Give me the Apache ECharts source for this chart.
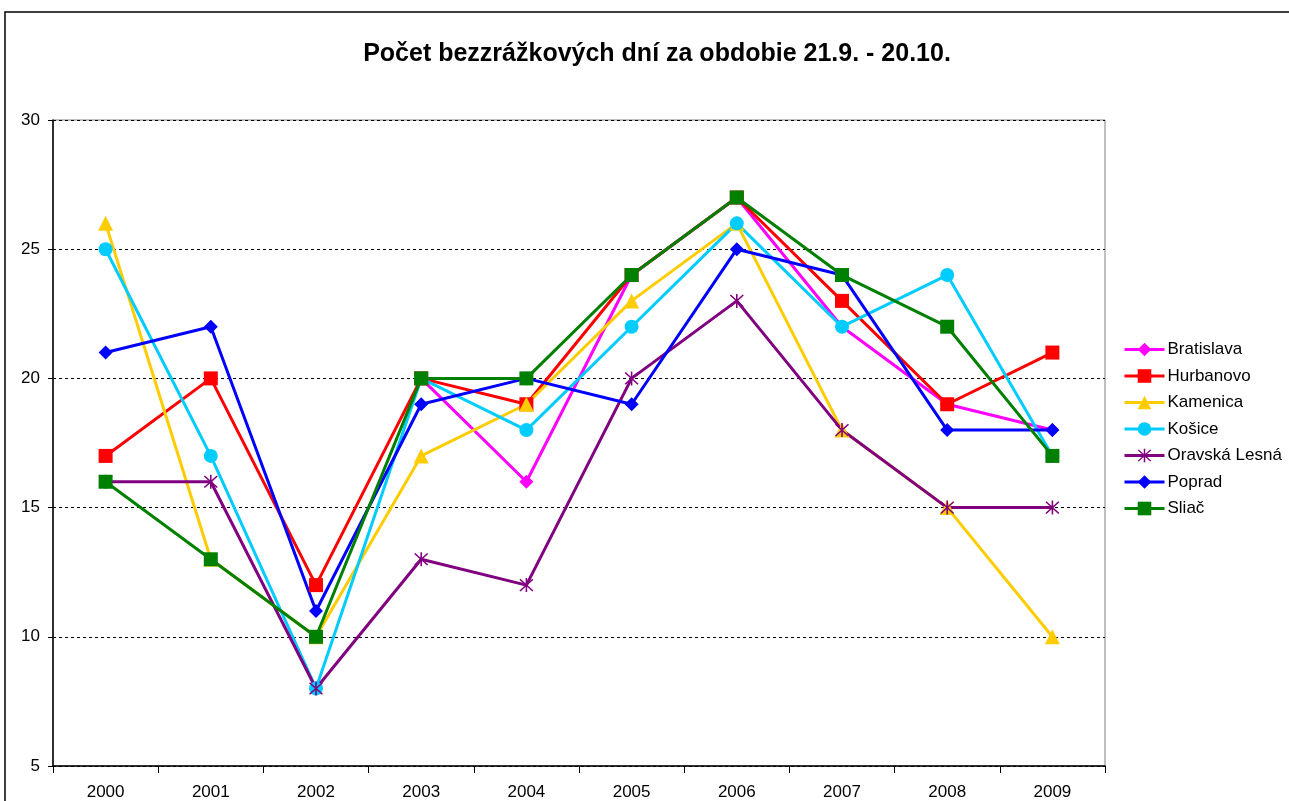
<!DOCTYPE html>
<html>
<head>
<meta charset="utf-8">
<script src="https://cdn.jsdelivr.net/npm/echarts@6/dist/echarts.min.js"></script>
<style>
    html, body { margin: 0; padding: 0; background: #fff; }
    #chart { width: 1289px; height: 801px; }
</style>
</head>
<body>
<div id="chart"></div>
<script>
    var years = ['2000', '2001', '2002', '2003', '2004', '2005', '2006', '2007', '2008', '2009'];

    var bratislava = [null, null, null, 20, 16, 24, 27, 22, 19, 18];
    var hurbanovo  = [17, 20, 12, 20, 19, 24, 27, 23, 19, 21];
    var kamenica   = [26, 13, 10, 17, 19, 23, 26, 18, 15, 10];
    var kosice     = [25, 17, 8, 20, 18, 22, 26, 22, 24, 17];
    var oravska    = [16, 16, 8, 13, 12, 20, 23, 18, 15, 15];
    var poprad     = [21, 22, 11, 19, 20, 19, 25, 24, 18, 18];
    var sliac      = [16, 13, 10, 20, 20, 24, 27, 24, 22, 17];

    var yTicks = [5, 10, 15, 20, 25, 30];

    var star = 'path://M9 0h2v20h-2z M1 2.4L2.4 1L19 17.6L17.6 19z M17.6 1L19 2.4L2.4 19L1 17.6z';

    function line(name, data, color, symbol, size) {
        return {
            name: name,
            type: 'line',
            data: data,
            symbol: symbol,
            symbolSize: size,
            showAllSymbol: true,
            connectNulls: false,
            lineStyle: { color: color, width: 3 },
            itemStyle: { color: color },
            emphasis: { disabled: true }
        };
    }

    var option = {
        animation: false,
        backgroundColor: '#fff',
        title: {
            text: 'Počet bezzrážkových dní za obdobie 21.9. - 20.10.',
            left: 652,
            textAlign: 'center',
            top: 37,
            textStyle: { fontFamily: 'Liberation Sans', fontSize: 25, fontWeight: 'bold', color: '#000' }
        },
        graphic: [{
            type: 'rect',
            shape: { x: 5, y: 12, width: 1320, height: 820 },
            style: { fill: 'none', stroke: '#000', lineWidth: 1.5 },
            silent: true
        }],
        legend: {
            orient: 'vertical',
            left: 1118,
            top: 336,
            itemWidth: 40,
            itemHeight: 17,
            itemGap: 9.5,
            lineStyle: { width: 3 },
            textStyle: { fontFamily: 'Liberation Sans', fontSize: 17, lineHeight: 17, color: '#000', padding: [0, 0, 0, -2] },
            data: ['Bratislava', 'Hurbanovo', 'Kamenica', 'Košice', 'Oravská Lesná', 'Poprad', 'Sliač']
        },
        grid: {
            left: 53, top: 120, width: 1052, height: 647,
            show: true, borderColor: '#808080', borderWidth: 1
        },
        xAxis: {
            type: 'category',
            data: years,
            boundaryGap: true,
            axisLine: { lineStyle: { color: '#000', width: 1.5 } },
            axisTick: { show: true, length: 7, alignWithLabel: false, lineStyle: { color: '#000' } },
            axisLabel: { fontFamily: 'Liberation Sans', fontSize: 17, color: '#000', margin: 18 },
            splitLine: { show: false }
        },
        yAxis: {
            type: 'value',
            min: yTicks[0],
            max: yTicks[yTicks.length - 1],
            interval: 5,
            axisLine: { show: true, lineStyle: { color: '#000', width: 1.5 } },
            axisTick: { show: true, length: 5, lineStyle: { color: '#000' } },
            axisLabel: { fontFamily: 'Liberation Sans', fontSize: 17, color: '#000', margin: 13 },
            splitLine: { show: true, lineStyle: { color: '#000', type: [3, 3], width: 1 } }
        },
        series: [
            line('Bratislava', bratislava, '#FF00FF', 'diamond', 14),
            line('Hurbanovo', hurbanovo, '#FF0000', 'rect', 14),
            line('Kamenica', kamenica, '#FFCC00', 'triangle', 15),
            line('Košice', kosice, '#00CCFF', 'circle', 14),
            line('Oravská Lesná', oravska, '#800080', star, 14),
            line('Poprad', poprad, '#0000FF', 'diamond', 14),
            line('Sliač', sliac, '#008000', 'rect', 14)
        ]
    };

    echarts.init(document.getElementById('chart')).setOption(option);
</script>
</body>
</html>
